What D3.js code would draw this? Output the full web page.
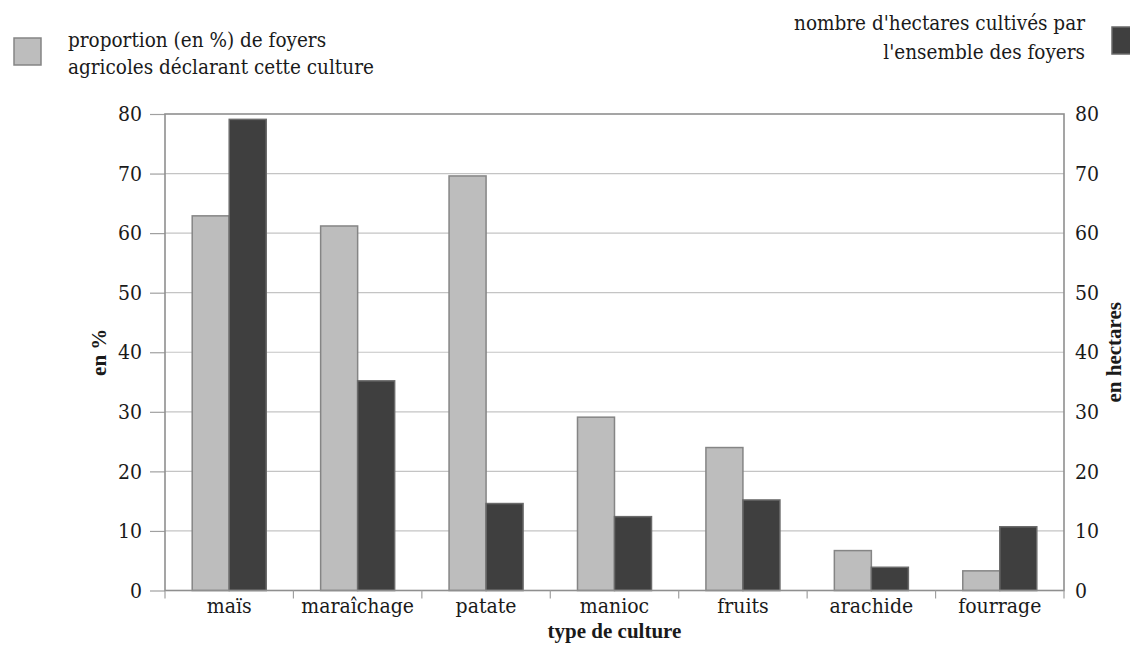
<!DOCTYPE html>
<html><head><meta charset="utf-8">
<script src="https://cdn.jsdelivr.net/npm/d3@7"></script>
<style>
body{margin:0;background:#fff;}
svg text{fill:#1a1a1a;}
</style></head>
<body><svg id="c" width="1130" height="650"></svg>
<script>
const categories = ["maïs","maraîchage","patate","manioc","fruits","arachide","fourrage"];
const pctValues = [62.9, 61.2, 69.6, 29.1, 24.0, 6.7, 3.3];
const haValues = [79.1, 35.2, 14.6, 12.4, 15.2, 3.9, 10.7];
const yTicks = [0,10,20,30,40,50,60,70,80];
const legendPct = ["proportion (en %) de foyers","agricoles déclarant cette culture"];
const legendHa = ["nombre d'hectares cultivés par","l'ensemble des foyers"];

const FR = "DejaVu Serif Condensed";
const FB = "Liberation Serif";

const svg = d3.select("#c");
const L=165, R=1064, T=114, B=590.5;
const x0 = d3.scaleBand().domain(categories).range([L,R]).padding(0);
const x1 = d3.scaleBand().domain(["pct","ha"]).range([0,x0.bandwidth()]).paddingInner(0).paddingOuter(0.735);
const yL = d3.scaleLinear().domain([0,80]).range([B,T]);
const yR = d3.scaleLinear().domain([0,80]).range([B,T]);

svg.append("g").selectAll("line").data(yTicks.filter(d=>d>0&&d<80)).join("line")
  .attr("x1",L).attr("x2",R).attr("y1",d=>yL(d)).attr("y2",d=>yL(d))
  .attr("stroke","#c4c4c4").attr("stroke-width",1.2);

const ga = svg.append("g").attr("transform",`translate(${L},0)`)
  .call(d3.axisLeft(yL).tickValues(yTicks).tickSize(15).tickPadding(8));
ga.attr("font-family",FR).attr("font-size",21);
ga.select(".domain").remove();
ga.selectAll("line").attr("stroke","#a0a0a0").attr("stroke-width",1.2);
ga.selectAll("text").attr("fill","#1a1a1a");

const gr = svg.append("g").attr("transform",`translate(${R},0)`)
  .call(d3.axisRight(yR).tickValues(yTicks).tickSize(0).tickPadding(11));
gr.attr("font-family",FR).attr("font-size",21);
gr.select(".domain").remove();
gr.selectAll("text").attr("fill","#1a1a1a");

const groups = svg.append("g").selectAll("g").data(categories).join("g")
  .attr("transform",d=>`translate(${x0(d)},0)`);
groups.append("rect")
  .attr("x",x1("pct")).attr("width",x1.bandwidth())
  .attr("y",(d,i)=>yL(pctValues[i])).attr("height",(d,i)=>B-yL(pctValues[i]))
  .attr("fill","#bdbdbd").attr("stroke","#858585").attr("stroke-width",1.5);
groups.append("rect")
  .attr("x",x1("ha")).attr("width",x1.bandwidth())
  .attr("y",(d,i)=>yR(haValues[i])).attr("height",(d,i)=>B-yR(haValues[i]))
  .attr("fill","#3f3f3f").attr("stroke","#6a6a6a").attr("stroke-width",1.5);

svg.append("rect").attr("x",L).attr("y",T).attr("width",R-L).attr("height",B-T)
  .attr("fill","none").attr("stroke","#8f8f8f").attr("stroke-width",1.6);

const gb = svg.append("g").attr("transform",`translate(0,${B})`)
  .call(d3.axisBottom(x0).tickSize(0).tickPadding(8));
gb.attr("font-family",FR).attr("font-size",21);
gb.select(".domain").remove();
gb.selectAll("text").attr("fill","#1a1a1a");
const bounds = categories.map(c=>x0(c)).concat([R]);
svg.append("g").selectAll("line").data(bounds).join("line")
  .attr("x1",d=>d).attr("x2",d=>d).attr("y1",B).attr("y2",B+8)
  .attr("stroke","#a0a0a0").attr("stroke-width",1.2);

svg.append("text").attr("x",(L+R)/2).attr("y",638).attr("text-anchor","middle")
  .attr("font-family",FB).attr("font-size",21).attr("font-weight","bold").text("type de culture");
svg.append("text").attr("transform",`translate(106,${(T+B)/2}) rotate(-90)`).attr("text-anchor","middle")
  .attr("font-family",FB).attr("font-size",21).attr("font-weight","bold").text("en %");
svg.append("text").attr("transform",`translate(1121,${(T+B)/2}) rotate(-90)`).attr("text-anchor","middle")
  .attr("font-family",FB).attr("font-size",21).attr("font-weight","bold").text("en hectares");

svg.append("rect").attr("x",14).attr("y",38).attr("width",27).attr("height",27)
  .attr("fill","#bdbdbd").attr("stroke","#858585").attr("stroke-width",1.5);
svg.append("g").selectAll("text").data(legendPct).join("text")
  .attr("x",68).attr("y",(d,i)=>47+i*27).attr("font-family",FR).attr("font-size",20.5).text(d=>d);
svg.append("rect").attr("x",1112).attr("y",27).attr("width",27).attr("height",27)
  .attr("fill","#3f3f3f").attr("stroke","#6a6a6a").attr("stroke-width",1.5);
svg.append("g").selectAll("text").data(legendHa).join("text")
  .attr("x",1085).attr("y",(d,i)=>30+i*29).attr("text-anchor","end").attr("font-family",FR).attr("font-size",20.5).text(d=>d);
</script></body></html>
